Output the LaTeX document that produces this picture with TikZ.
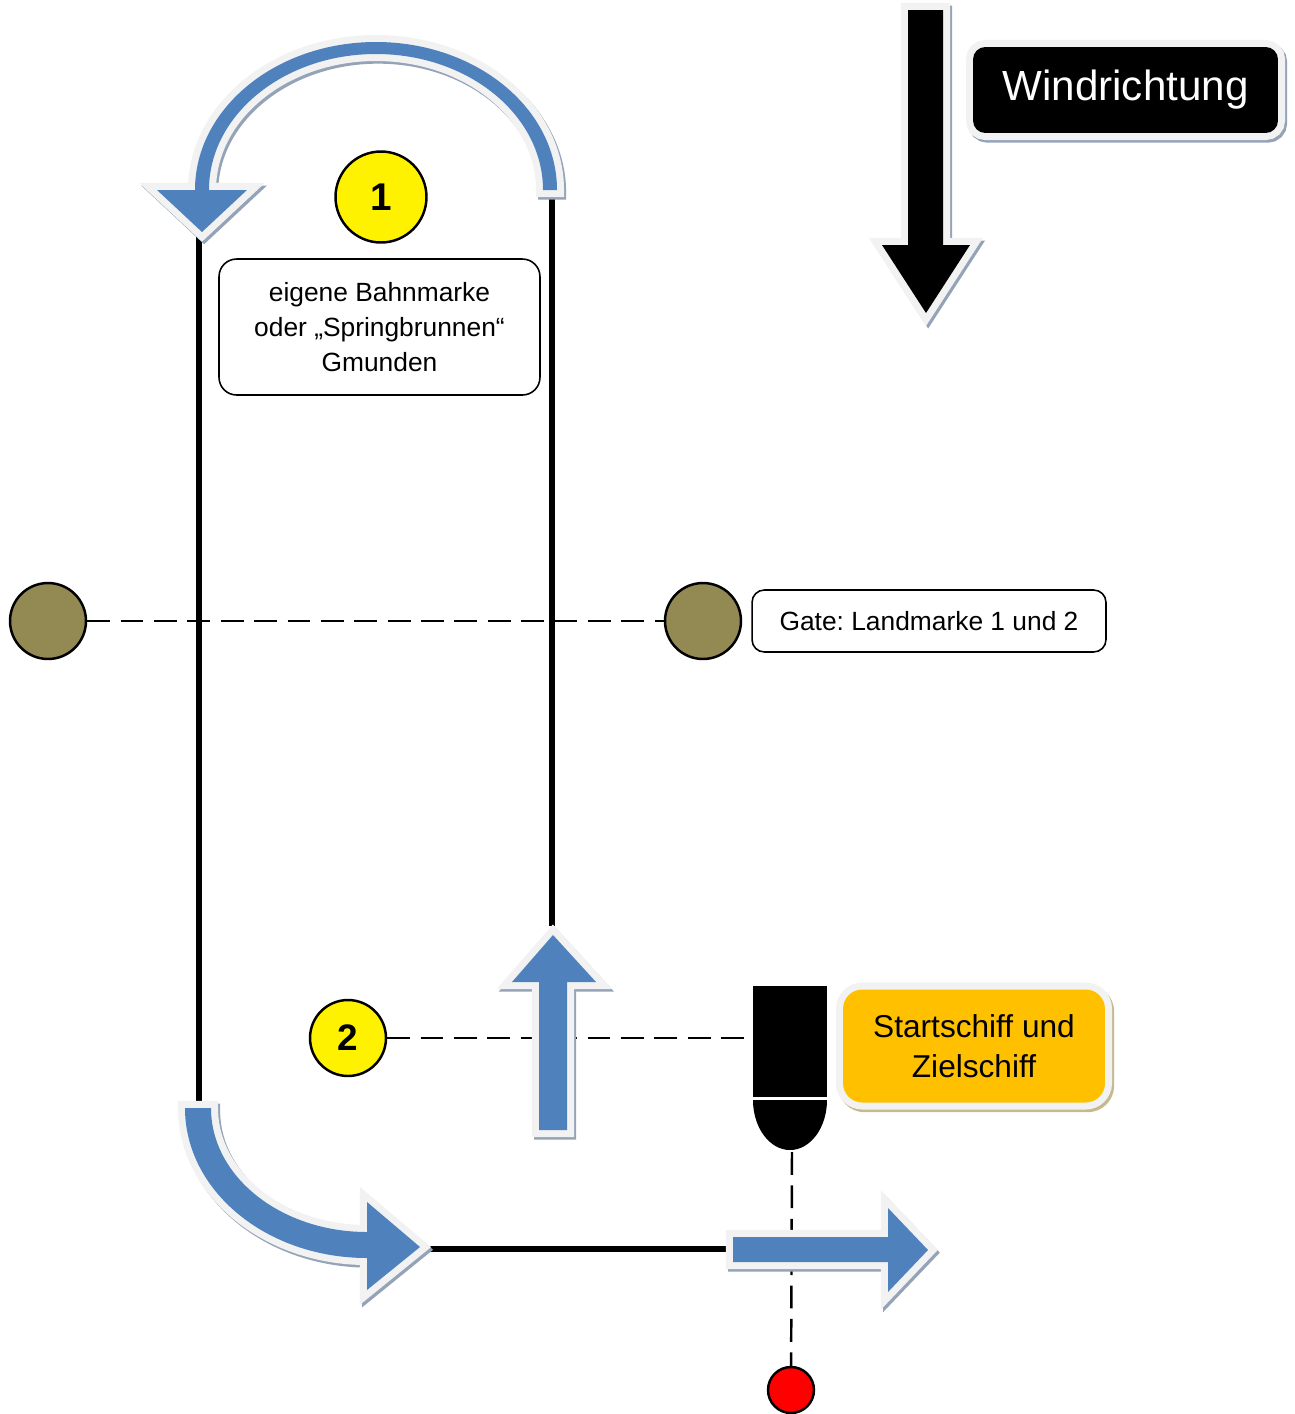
\documentclass[tikz,border=0pt]{standalone}
\usepackage{fontspec}
\setmainfont{Liberation Sans}
\usepackage{tikz}
\pgfdeclarelayer{bg}
\pgfsetlayers{bg,main}
\frenchspacing
\definecolor{pathblue}{HTML}{4F81BD}
\definecolor{rimgrey}{HTML}{F2F2F2}
\definecolor{shadegrey}{HTML}{95A3B8}
\definecolor{shadetan}{HTML}{C8B88E}
\definecolor{buoyolive}{HTML}{938953}
\definecolor{shipgold}{HTML}{FFC000}
\begin{document}
\begin{tikzpicture}[x=0.02cm, y=-0.02cm,
        rim/.style={preaction={draw=#1, fill=#1, line width=8pt, transform canvas={xshift=1.2pt, yshift=-1.5pt}}, preaction={draw=rimgrey, line width=8pt}},
        rim/.default=shadegrey,
        track/.style={line width=3.5pt},
        sight/.style={dash pattern=on 13pt off 6pt, line width=1.4pt},
        buoy/.style={circle, draw, line width=1.4pt, inner sep=0pt},
        labelbox/.style={draw, fill=white, rounded corners=10pt, line width=0.9pt, align=center, font=\fontsize{15}{20}\selectfont}]
        \useasboundingbox (0,0) rectangle (1295,1414);
        \node (m0) [buoy, fill=buoyolive, minimum size=1.52cm] at (48,621) {};
        \node (m1) [buoy, fill=buoyolive, minimum size=1.52cm] at (703,621) {};
        \node (b1) [buoy, fill=yellow, minimum size=1.82cm, font=\fontsize{22}{22}\selectfont\bfseries] at (381,197) {1};
        \node (b2) [buoy, fill=yellow, minimum size=1.52cm, font=\fontsize{21}{21}\selectfont\bfseries] at (348,1038) {2};
        \node (f0) [buoy, fill=red, minimum size=0.92cm] at (791,1390) {};
        \node (t0) [labelbox, minimum width=6.42cm, minimum height=2.72cm] at (379.5,327) {eigene Bahnmarke\\oder „Springbrunnen“\\Gmunden};
        \node (t1) [labelbox, rounded corners=7pt, minimum width=7.08cm, minimum height=1.24cm] at (929,621) {Gate: Landmarke 1 und 2};
        \node (w0) [rim, fill=black, text=white, rounded corners=7pt, minimum width=6.1cm, minimum height=1.72cm, font=\fontsize{24}{24}\selectfont] at (1125.5,90) {Windrichtung};
        \node (s1) [rim=shadetan, fill=shipgold, rounded corners=11pt, align=center, minimum width=5.24cm, minimum height=2.26cm, font=\fontsize{18}{23}\selectfont] at (974,1046) {Startschiff und\\Zielschiff};
        \coordinate (c0) at (199,236);
        \coordinate (c1) at (199,1104);
        \coordinate (c2) at (552,196);
        \coordinate (c3) at (552,926);
        \coordinate (c4) at (420,1249);
        \coordinate (c5) at (730,1249);
        \coordinate (s0) at (745,1038);
        \coordinate (s2) at (792,1152);
        \fill (753,986) rectangle (827,1097);
        \fill (753,1100) arc[start angle=180, end angle=0, x radius=37, y radius=50] -- cycle;
        \path [rim, fill=pathblue] (557,190) arc[start angle=0, end angle=-180, x radius=181, y radius=148] -- (157,190) -- (202,232) -- (247,190) -- (209,190) arc[start angle=-180, end angle=0, x radius=167, y radius=136] -- cycle;
        \path [rim, fill=black] (908,10) -- (943,10) -- (943,245) -- (970,245) -- (926,313) -- (882,245) -- (908,245) -- cycle;
        \path [rim, fill=pathblue] (539,1130) -- (567,1130) -- (567,982) -- (596,982) -- (553,935) -- (512,982) -- (539,982) -- cycle;
        \path [rim, fill=pathblue] (733,1237) -- (888,1237) -- (888,1208) -- (928,1250) -- (888,1292) -- (888,1262) -- (733,1262) -- cycle;
        \path [rim, fill=pathblue] (185,1108) arc[start angle=180, end angle=90, x radius=182, y radius=150] -- (367,1290) -- (420,1247) -- (367,1202) -- (367,1232) arc[start angle=90, end angle=180, x radius=156, y radius=124] -- cycle;
        \begin{pgfonlayer}{bg}
                \draw (c0) edge [track] (c1);
                \draw (c2) edge [track] (c3);
                \draw (c4) edge [track] (c5);
                \draw (m0) edge [sight] (m1);
                \draw (b2) edge [sight] (s0);
                \draw (s2) edge [sight] (f0);
        \end{pgfonlayer}
\end{tikzpicture}
\end{document}
